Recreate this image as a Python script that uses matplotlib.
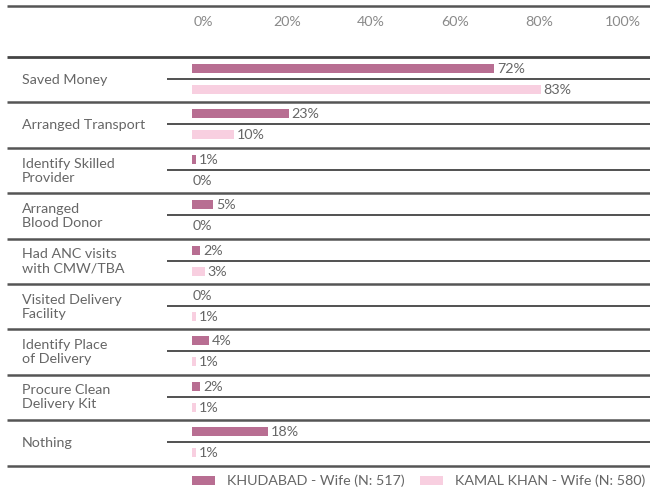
import matplotlib
matplotlib.use("Agg")
import matplotlib.pyplot as plt
from matplotlib.patches import Patch
from matplotlib.transforms import offset_copy

categories = ["Saved Money", "Arranged Transport", "Identify Skilled\nProvider",
              "Arranged\nBlood Donor", "Had ANC visits\nwith CMW/TBA",
              "Visited Delivery\nFacility", "Identify Place\nof Delivery",
              "Procure Clean\nDelivery Kit", "Nothing"]
khudabad = [72, 23, 1, 5, 2, 0, 4, 2, 18]
kamal_khan = [83, 10, 0, 0, 3, 1, 1, 1, 1]
series_names = ["KHUDABAD - Wife (N: 517)", "KAMAL KHAN - Wife (N: 580)"]
tick_values = [0, 20, 40, 60, 80, 100]

dark = "#B86E92"
light = "#F8CFE0"
text_col = "#666666"

plt.rcParams['font.family'] = ['Lato', 'DejaVu Sans']
FS = 10.3

W, H = 650, 492
fig = plt.figure(figsize=(W / 100, H / 100), dpi=100)
ax = fig.add_axes([0, 0, 1, 1])
px_per = 4.2
x0 = 192
ax.set_xlim(-x0 / px_per, (W - x0) / px_per)
ax.set_ylim(H, 0)
ax.axis("off")

def px(x):
    return (x - x0) / px_per

row_top = 57
row_h = 45.4
n = len(categories)
bar_h = 9

# header lines
ax.hlines(6, px(7), px(650), color="#555555", lw=1.8)
ax.hlines(row_top, px(7), px(650), color="#444444", lw=2.0)

# ticks
for t in tick_values:
    ax.text(t, 22, f"{t}%", ha="center", va="center", fontsize=FS,
            color="#8a8a8a",
            transform=offset_copy(ax.transData, fig=fig, x=11, y=0, units="dots"))

for i, cat in enumerate(categories):
    top = row_top + i * row_h
    y1 = top + 11.5
    y2 = top + 32.5
    ax.barh(y1, khudabad[i], height=bar_h, left=0, color=dark)
    ax.barh(y2, kamal_khan[i], height=bar_h, left=0, color=light)
    for y, v in ((y1, khudabad[i]), (y2, kamal_khan[i])):
        ax.text(v + px(195) if v > 0 else px(193), y + 0.5, f"{v}%",
                ha="left", va="center", fontsize=FS, color=text_col)
    ax.hlines(top + 22, px(167), px(650), color="#333333", lw=1.2)
    ax.hlines(top + row_h, px(7), px(650), color="#555555", lw=1.8)
    ax.text(px(22), top + row_h / 2, cat, ha="left", va="center",
            fontsize=FS, color=text_col, linespacing=1.2)

for k, (col, name, xpos) in enumerate(zip([dark, light], series_names, [192, 420])):
    leg = fig.legend([Patch(facecolor=col, edgecolor="none")], [name], loc="center left",
                     bbox_to_anchor=(xpos / W, 1 - 481 / H), frameon=False,
                     fontsize=FS, handlelength=1.6, handleheight=0.6,
                     handletextpad=0.85, borderpad=0, borderaxespad=0,
                     labelcolor=text_col)

fig.savefig("out.png", dpi=100)
